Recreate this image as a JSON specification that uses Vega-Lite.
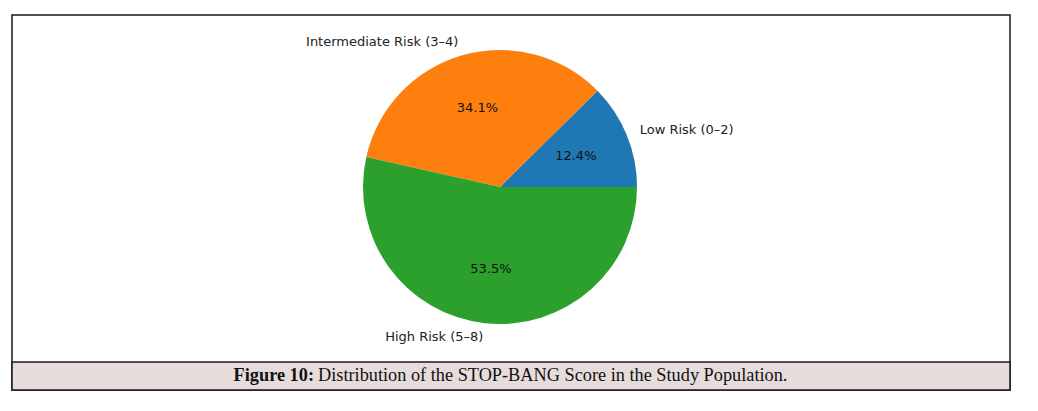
{
  "$schema": "https://vega.github.io/schema/vega-lite/v6.json",
  "autosize": {"type": "none"},
  "width": 998,
  "height": 375,
  "padding": {"left": 12, "top": 15, "right": 28, "bottom": 21},
  "background": "white",
  "config": {"view": {"stroke": "#1a1a1a", "strokeWidth": 1.5}},
  "datasets": {
    "pie": [
      {"cat": "Low Risk (0–2)", "pct": 12.4, "label": "12.4%"},
      {"cat": "Intermediate Risk (3–4)", "pct": 34.1, "label": "34.1%"},
      {"cat": "High Risk (5–8)", "pct": 53.5, "label": "53.5%"}
    ],
    "caption": [
      {"bold": "Figure 10:", "rest": "Distribution of the STOP-BANG Score in the Study Population."}
    ]
  },
  "layer": [
    {
      "data": {"name": "pie"},
      "mark": {"type": "arc", "outerRadius": 137},
      "encoding": {
        "x": {"value": 488},
        "y": {"value": 172},
        "theta": {"field": "pct", "type": "quantitative", "stack": true, "scale": {"range": [1.5708, 7.854]}},
        "order": {"field": "cat", "sort": "ascending"},
        "color": {"field": "cat", "type": "nominal", "legend": null,
          "scale": {"domain": ["Low Risk (0–2)", "Intermediate Risk (3–4)", "High Risk (5–8)"], "range": ["#1f77b4", "#ff7f0e", "#2ca02c"]}}
      }
    },
    {
      "data": {"name": "pie"},
      "mark": {"type": "text", "radius": 82, "font": "DejaVu Sans", "fontSize": 13, "color": "#111", "align": "center", "baseline": "middle"},
      "encoding": {
        "x": {"value": 488},
        "y": {"value": 172},
        "theta": {"field": "pct", "type": "quantitative", "stack": true},
        "order": {"field": "cat", "sort": "ascending"},
        "detail": {"field": "cat"},
        "text": {"field": "label"}
      }
    },
    {
      "data": {"name": "pie"},
      "mark": {"type": "text", "radius": 151, "font": "DejaVu Sans", "fontSize": 13, "color": "#222", "align": "left", "baseline": "middle"},
      "encoding": {
        "x": {"value": 488},
        "y": {"value": 172},
        "theta": {"field": "pct", "type": "quantitative", "stack": true},
        "order": {"field": "cat", "sort": "ascending"},
        "detail": {"field": "cat"},
        "text": {"condition": {"test": "datum.cat === 'Low Risk (0–2)'", "field": "cat"}, "value": ""}
      }
    },
    {
      "data": {"name": "pie"},
      "mark": {"type": "text", "radius": 151, "font": "DejaVu Sans", "fontSize": 13, "color": "#222", "align": "right", "baseline": "middle"},
      "encoding": {
        "x": {"value": 488},
        "y": {"value": 172},
        "theta": {"field": "pct", "type": "quantitative", "stack": true},
        "order": {"field": "cat", "sort": "ascending"},
        "detail": {"field": "cat"},
        "text": {"condition": {"test": "datum.cat !== 'Low Risk (0–2)'", "field": "cat"}, "value": ""}
      }
    },
    {
      "data": {"name": "caption"},
      "mark": {"type": "rect", "fill": "#e6dcdc", "stroke": "#1a1a1a", "strokeWidth": 1.5},
      "encoding": {
        "x": {"value": 0},
        "x2": {"value": 998},
        "y": {"value": 347},
        "y2": {"value": 375}
      }
    },
    {
      "data": {"name": "caption"},
      "mark": {"type": "text", "font": "Liberation Serif", "fontSize": 18.3, "fontWeight": "bold", "color": "#111", "align": "right", "baseline": "middle"},
      "encoding": {
        "x": {"value": 302},
        "y": {"value": 361},
        "text": {"field": "bold"}
      }
    },
    {
      "data": {"name": "caption"},
      "mark": {"type": "text", "font": "Liberation Serif", "fontSize": 18.3, "color": "#111", "align": "left", "baseline": "middle"},
      "encoding": {
        "x": {"value": 306},
        "y": {"value": 361},
        "text": {"field": "rest"}
      }
    }
  ]
}
